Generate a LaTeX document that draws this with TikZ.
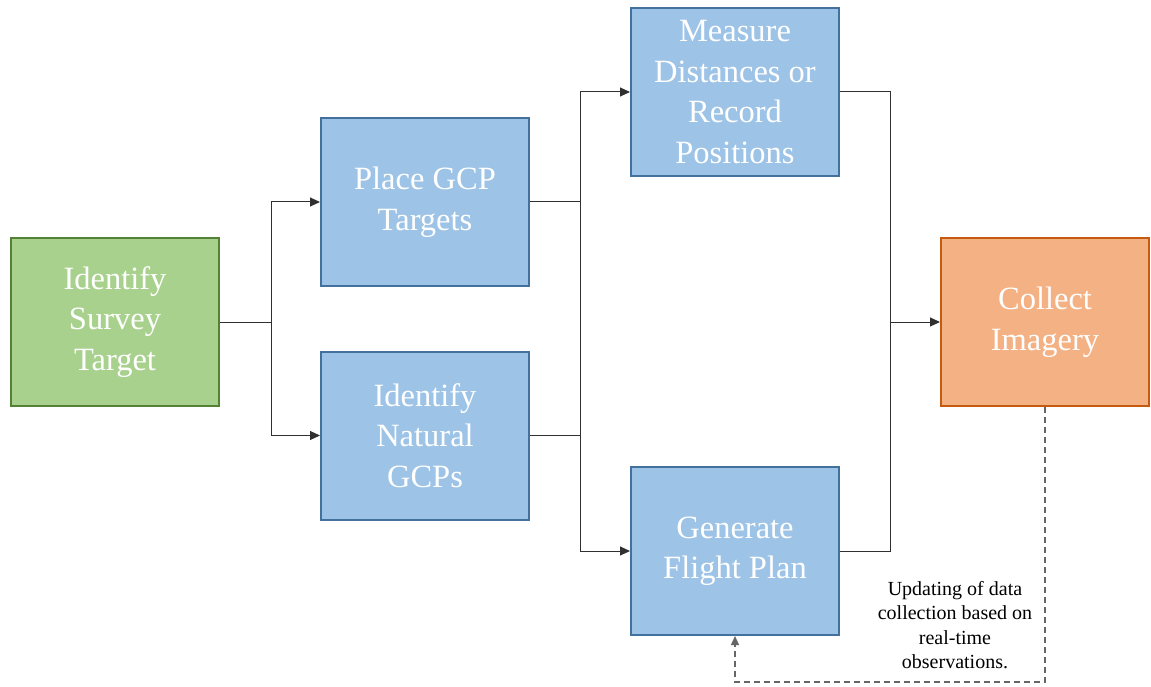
\documentclass[tikz,border=0pt]{standalone}
\usepackage{fontspec}
\setmainfont{Liberation Serif}
\newfontfamily\boxfont{Liberation Serif}
\usetikzlibrary{arrows.meta}
\definecolor{gfill}{HTML}{A9D18E}
\definecolor{gline}{HTML}{548235}
\definecolor{bfill}{HTML}{9DC3E6}
\definecolor{bline}{HTML}{41719C}
\definecolor{ofill}{HTML}{F4B183}
\definecolor{oline}{HTML}{C55A11}
\definecolor{conn}{HTML}{303030}
\tikzset{
  stepbox/.style={draw, line width=2pt, minimum width=208pt, minimum height=168pt,
    inner sep=0pt, align=center, text=white,
    font=\boxfont\fontsize{32.5}{40.5}\selectfont},
  greenbox/.style={stepbox, fill=gfill, draw=gline},
  bluebox/.style={stepbox, fill=bfill, draw=bline},
  orangebox/.style={stepbox, fill=ofill, draw=oline},
  conline/.style={draw=conn, line width=1pt},
  arr/.style={conline, -{Triangle[length=10pt,width=9pt]}},
  dashline/.style={draw=gray!80!black, line width=1.2pt, dash pattern=on 6pt off 4pt,
    -{Triangle[length=9pt,width=8pt]}}
}
\begin{document}
\begin{tikzpicture}[x=1pt,y=-1pt]
\useasboundingbox (0,0) rectangle (1151,687);
\node[greenbox] (ident) at (115,322) {Identify\\Survey\\Target};
\node[bluebox] (place) at (425,202) {Place GCP\\Targets};
\node[bluebox] (natural) at (425,435.5) {Identify\\Natural\\GCPs};
\node[bluebox] (measure) at (735,92) {Measure\\Distances or\\Record\\Positions};
\node[bluebox] (flight) at (735,551) {Generate\\Flight Plan};
\node[orangebox] (collect) at (1045,322) {Collect\\Imagery};
\coordinate (s1) at (271,322);
\coordinate (s2t) at (580,202);
\coordinate (s2b) at (580,435.5);
\coordinate (s3m) at (890,322);
\coordinate (dc) at (1045,682);
% first split
\draw[conline] (ident.east) -- (s1);
\draw[arr] (s1) |- (place.west);
\draw[arr] (s1) |- (natural.west);
% second split
\draw[conline] (place.east) -- (s2t);
\draw[conline] (natural.east) -- (s2b);
\draw[arr] (s2t) |- (measure.west);
\draw[arr] (s2b) |- (flight.west);
\draw[conline] (s2t) -- (s2b);
% merge
\draw[conline] (measure.east) -| (s3m);
\draw[conline] (flight.east) -| (s3m);
\draw[arr] (s3m) -- (collect.west);
% feedback
\draw[dashline] (collect.south) -- (dc) -| (flight.south);
\node[align=center, font=\fontsize{20}{24.5}\selectfont] (note) at (955,625)
  {Updating of data\\collection based on\\real-time\\observations.};
\end{tikzpicture}
\end{document}
